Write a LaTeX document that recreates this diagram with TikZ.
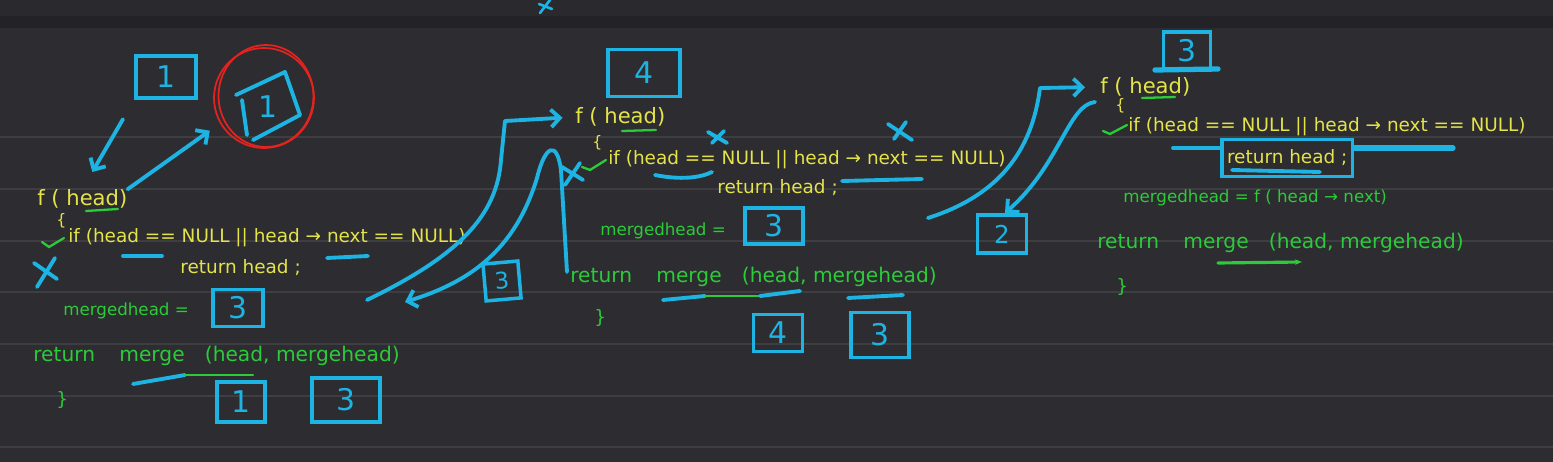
\documentclass[tikz,border=0pt]{standalone}
\usepackage{fontspec}
\setmainfont{DejaVu Sans}
\usepackage{tikz}
\usetikzlibrary{arrows.meta}
\usetikzlibrary{calc}
\usepackage{xcolor}
\definecolor{boardbg}{HTML}{2D2C30}
\definecolor{boardtop}{HTML}{2A292D}
\definecolor{boardband}{HTML}{232226}
\definecolor{ruleline}{HTML}{3E3D42}
\definecolor{penblue}{HTML}{1DB4E4}
\definecolor{codeyellow}{HTML}{E4E44A}
\definecolor{codegreen}{HTML}{2BCB3A}
\definecolor{penred}{HTML}{E2231F}

\begin{document}
\begin{tikzpicture}[x=0.02cm,y=-0.02cm,>={Straight Barb[length=5pt,width=10pt]},
	pen/.style={draw=penblue,line width=2.2pt,line cap=round,line join=round},
	greenpen/.style={draw=codegreen,line width=1.3pt,line cap=round},
	valbox/.style={draw=penblue,line width=2pt,text=penblue,inner sep=0pt,font=\fontsize{17}{17}\selectfont},
	codey/.style={text=codeyellow,anchor=west,inner sep=0pt,font=\fontsize{10.5}{12}\selectfont},
	codeg/.style={text=codegreen,anchor=west,inner sep=0pt,font=\fontsize{10.5}{12}\selectfont},
	sigline/.style={codey,font=\fontsize{12}{14}\selectfont},
	callline/.style={codeg,font=\fontsize{11.5}{13}\selectfont},
	mhline/.style={codeg,font=\fontsize{9.5}{11}\selectfont}]
		% Board
		\useasboundingbox (0,0) rectangle (1553,462);
		\fill[boardbg] (0,0) rectangle (1553,462);
		\fill[boardtop] (0,0) rectangle (1553,16);
		\fill[boardband] (0,16) rectangle (1553,28);
		\foreach \y in {137,189,241,292,344,396,447}
			\draw[ruleline,line width=0.8pt] (0,\y) -- (1553,\y);
		\draw[pen,line width=1.5pt] (540,13) -- (550,0) (539,4) -- (552,9);
		
		% First call: head = 1
		\node[valbox,minimum width=1.2cm,minimum height=0.84cm] (boxA) at (166,77) {1};
		\node[draw=penred,line width=1pt,circle,minimum size=2cm] (ringA) at (264,98) {};
		\draw[penred,line width=1pt] (266,96) ellipse [x radius=0.95cm,y radius=1.02cm];
		\node[text=penblue,font=\fontsize{17}{17}\selectfont] (lastA) at (268,107) {1};
		\draw[pen] (236,95) -- (285,72) -- (300,115) -- (253,140);
		\draw[pen] (242,100) -- (247,135);
		
		\node[sigline] (sigA) at (37,199) {f ( head)};
		\node[codey,font=\small] (openA) at (56,221) {\{};
		\draw[greenpen] (86,211) -- (118,209);
		\draw[greenpen] (42,242) -- (49,247) -- (64,238);
		\node[codey] (ifA) at (68,238) {if (head == NULL || head → next == NULL)};
		\draw[pen] (123,256) -- (162,256);
		\draw[pen] (327,258) -- (368,256);
		\draw[pen] (34,263) -- (57,279) (55,258) -- (37,287);
		\node[codey] (retA) at (180,268) {return head ;};
		\node[mhline] (mhA) at (63,311) {mergedhead =};
		\node[valbox,minimum width=1cm,minimum height=0.74cm] (valA) at (238,308) {3};
		\node[callline] (callA) at (33,356) {return\hspace{1.2em}merge\hspace{1em}(head, mergehead)};
		\draw[pen] (133,384) -- (185,375);
		\draw[greenpen] (185,375) -- (253,375);
		\node[codeg] (closeA) at (56,400) {\}};
		\node[valbox,minimum width=0.96cm,minimum height=0.8cm] (argA1) at (241,402) {1};
		\node[valbox,minimum width=1.36cm,minimum height=0.88cm] (argA2) at (346,400) {3};
		
		\draw[pen,->,shorten <=0.45cm,shorten >=0.4cm] (boxA.south west) -- (sigA.north);
		\draw[pen,->,shorten >=0.25cm] (sigA.north east) -- (ringA.210);
		
		% Second call: head = 4
		\node[valbox,minimum width=1.44cm,minimum height=0.94cm] (boxB) at (644,73) {4};
		\node[sigline] (sigB) at (575,117) {f ( head)};
		\node[codey,font=\small] (openB) at (592,143) {\{};
		\draw[greenpen] (622,131) -- (656,130);
		\draw[greenpen] (582,167) -- (590,170) -- (606,160);
		\draw[pen] (565,185) -- (580,163) (562,167) -- (583,180);
		\node[codey] (ifB) at (608,160) {if (head == NULL || head → next == NULL)};
		\draw[pen] (655,175) .. controls (680,180) and (700,178) .. (712,172);
		\draw[pen] (842,181) -- (922,179);
		\draw[pen] (708,132) -- (727,143) (724,131) -- (712,143);
		\draw[pen] (888,124) -- (912,140) (906,122) -- (894,139);
		\node[codey] (retB) at (717,188) {return head ;};
		\node[mhline] (mhB) at (600,231) {mergedhead =};
		\node[valbox,minimum width=1.16cm,minimum height=0.72cm] (valB) at (774,226) {3};
		\node[callline] (callB) at (570,277) {return\hspace{1.2em}merge\hspace{1em}(head, mergehead)};
		\draw[pen] (663,300) -- (705,296);
		\draw[greenpen] (705,296) -- (760,296);
		\draw[pen] (760,296) -- (800,291);
		\draw[pen] (848,298) -- (903,295);
		\node[codeg] (closeB) at (594,318) {\}};
		\node[valbox,minimum width=0.98cm,minimum height=0.74cm] (argB1) at (778,333) {4};
		\node[valbox,minimum width=1.16cm,minimum height=0.9cm] (argB2) at (880,335) {3};
		
		% Call and return between first and second
		\coordinate (goA) at (367,300);
		\coordinate (backA) at (405,302);
		\node[valbox,font=\fontsize{13}{13}\selectfont,minimum width=0.7cm,minimum height=0.74cm,rotate=5] (retbox) at (502,281) {3};
		\draw[pen,->,shorten >=0.25cm] (goA) .. controls (460,255) and (497,215) .. (501,160) -- (505,121) -- (sigB.west);
		\draw[pen,->] ([shift={(-3,-5)}]callB.west) -- (561,170) .. controls (557,140) and (545,145) .. (537,178) .. controls (515,250) and (470,282) .. (backA);
		
		% Third call: head = 3
		\node[valbox,minimum width=0.94cm,minimum height=0.76cm] (boxC) at (1187,51) {3};
		\draw[pen,line width=3pt] (1155,70) -- (1218,69);
		\node[sigline] (sigC) at (1100,87) {f ( head)};
		\node[codey,font=\small] (openC) at (1115,106) {\{};
		\draw[greenpen] (1142,98) -- (1175,97);
		\draw[greenpen] (1103,131) -- (1110,134) -- (1127,125);
		\node[codey] (ifC) at (1128,127) {if (head == NULL || head → next == NULL)};
		\node[codey,draw=penblue,line width=2pt,inner xsep=3pt,inner ysep=6pt] (retC) at (1220,158) {return head ;};
		\draw[pen] (1173,148) -- (retC.west |- 0,148);
		\draw[pen,line width=3pt] (retC.east |- 0,148) -- (1453,148);
		\draw[pen] (1232,170) -- (1320,172);
		\node[mhline] (mhC) at (1123,198) {mergedhead = f ( head → next)};
		\node[callline] (callC) at (1097,243) {return\hspace{1.2em}merge\hspace{1em}(head, mergehead)};
		\draw[greenpen,line width=1.8pt,->,>={Stealth[length=4pt]}] (1218,263) -- (1302,262);
		\node[codeg] (closeC) at (1116,287) {\}};
		
		% Call and return between second and third
		\coordinate (goB) at (928,218);
		\coordinate (backB) at (1005,213);
		\node[valbox,font=\fontsize{14}{14}\selectfont,minimum width=0.98cm,minimum height=0.76cm] (boxR) at (1002,234) {2};
		\draw[pen,->,shorten >=0.3cm] (goB) .. controls (1000,195) and (1032,150) .. (1040,88) -- (sigC.west);
		\draw[pen,->] ([shift={(-5,15)}]sigC.west) .. controls (1068,105) and (1060,165) .. (backB);
	\end{tikzpicture}
\end{document}
